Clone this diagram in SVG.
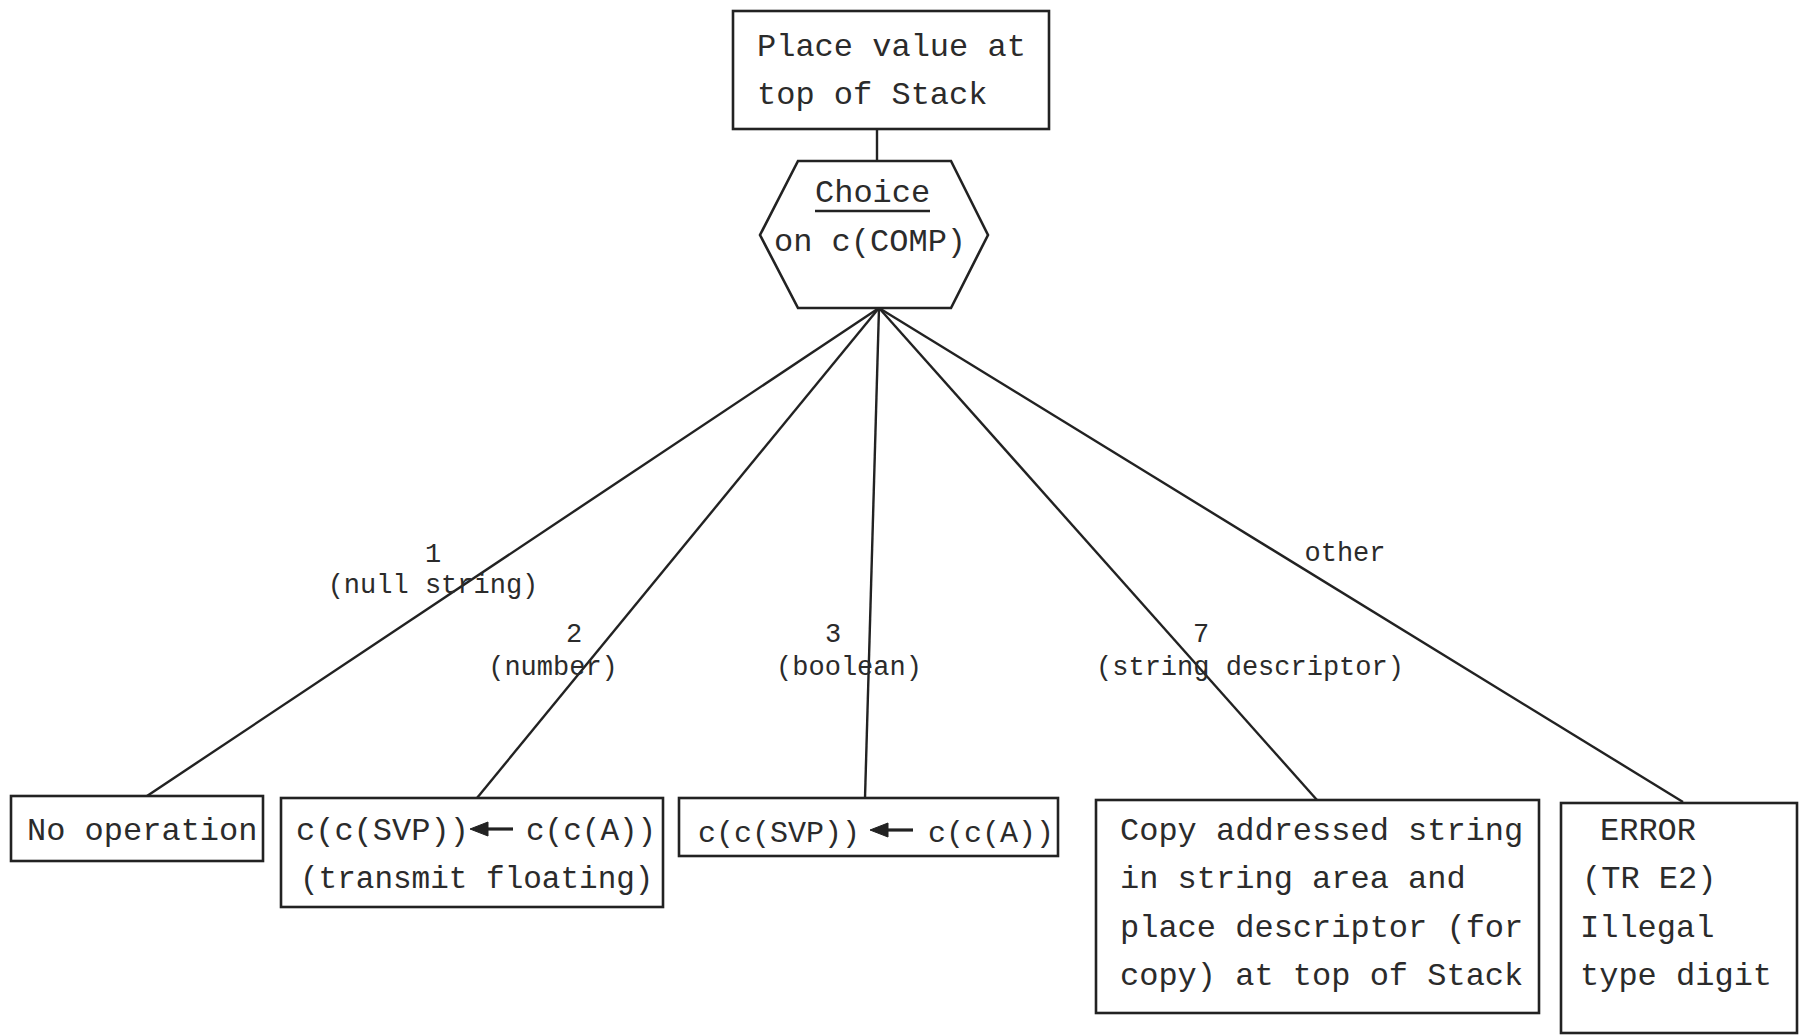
<svg xmlns="http://www.w3.org/2000/svg" width="1801" height="1036" viewBox="0 0 1801 1036">
  <style>
    .box { fill: none; stroke: #222; stroke-width: 2.6; }
    .edge { fill: none; stroke: #222; stroke-width: 2.4; }
    .t { font-family: "Liberation Mono", "Courier New", monospace; font-size: 32px; fill: #2b2b2b; }
    .t30 { font-size: 30px; }
    .t31 { font-size: 31px; }
    .lbl { font-family: "Liberation Mono", "Courier New", monospace; font-size: 27px; fill: #2b2b2b; text-anchor: middle; }
    .arr { fill: #222; stroke: #222; }
  </style>
  <rect width="1801" height="1036" fill="#ffffff"/>

  <!-- connectors -->
  <g id="connectors">
    <line class="edge" x1="877" y1="129" x2="877" y2="161"/>
    <line class="edge" x1="879" y1="308" x2="147" y2="796"/>
    <line class="edge" x1="879" y1="308" x2="477" y2="798"/>
    <line class="edge" x1="879" y1="308" x2="865" y2="798"/>
    <line class="edge" x1="879" y1="308" x2="1317" y2="800"/>
    <line class="edge" x1="879" y1="308" x2="1683" y2="802"/>
    <text class="lbl" x="433" y="562">1</text>
    <text class="lbl" x="433" y="593">(null string)</text>
    <text class="lbl" x="574" y="642">2</text>
    <text class="lbl" x="553" y="675">(number)</text>
    <text class="lbl" x="833" y="642">3</text>
    <text class="lbl" x="849" y="675">(boolean)</text>
    <text class="lbl" x="1201" y="642">7</text>
    <text class="lbl" x="1250" y="675">(string descriptor)</text>
    <text class="lbl" x="1345" y="561">other</text>
  </g>

  <!-- start: place value -->
  <g id="place-value">
    <rect class="box" x="733" y="11" width="316" height="118"/>
    <text class="t" x="757" y="56">Place value at</text>
    <text class="t" x="757" y="104">top of Stack</text>
  </g>

  <!-- choice on type digit -->
  <g id="choice">
    <polygon class="box" points="798,161 951,161 988,235 951,308 798,308 760,235"/>
    <text class="t" x="815" y="202">Choice</text>
    <line x1="815" y1="211" x2="930" y2="211" stroke="#222" stroke-width="2.6"/>
    <text class="t" x="774" y="251">on c(COMP)</text>
  </g>

  <g id="no-operation">
    <rect class="box" x="11" y="796" width="252" height="65"/>
    <text class="t" x="27" y="840">No operation</text>
  </g>

  <g id="transmit-floating">
    <rect class="box" x="281" y="798" width="382" height="109"/>
    <text class="t" x="296" y="840">c(c(SVP))</text>
    <path class="arr" d="M470,829 L488,822 L488,836 Z"/>
    <line x1="486" y1="829" x2="513" y2="829" stroke="#222" stroke-width="3.2"/>
    <text class="t t31" x="526" y="840">c(c(A))</text>
    <text class="t t31" x="300" y="888">(transmit floating)</text>
  </g>

  <g id="boolean-copy">
    <rect class="box" x="679" y="798" width="379" height="58"/>
    <text class="t t30" x="698" y="842">c(c(SVP))</text>
    <path class="arr" d="M870,830 L888,823 L888,837 Z"/>
    <line x1="886" y1="830" x2="913" y2="830" stroke="#222" stroke-width="3.2"/>
    <text class="t t30" x="928" y="842">c(c(A))</text>
  </g>

  <g id="string-copy">
    <rect class="box" x="1096" y="800" width="443" height="213"/>
    <text class="t" x="1120" y="840">Copy addressed string</text>
    <text class="t" x="1120" y="888">in string area and</text>
    <text class="t" x="1120" y="937">place descriptor (for</text>
    <text class="t" x="1120" y="985">copy) at top of Stack</text>
  </g>

  <g id="error">
    <rect class="box" x="1561" y="803" width="236" height="230"/>
    <text class="t" x="1600" y="840">ERROR</text>
    <text class="t" x="1582" y="888">(TR E2)</text>
    <text class="t" x="1580" y="937">Illegal</text>
    <text class="t" x="1580" y="985">type digit</text>
  </g>
</svg>
